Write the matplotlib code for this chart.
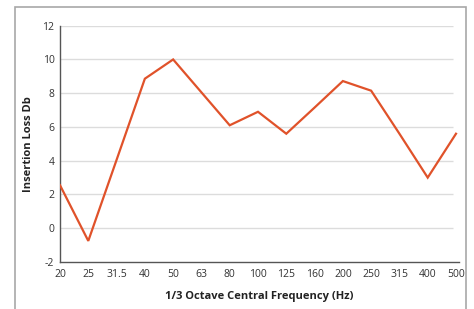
import matplotlib
matplotlib.use("Agg")
import matplotlib.pyplot as plt
from matplotlib.patches import Rectangle

freqs = ["20", "25", "31.5", "40", "50", "63", "80", "100", "125", "160", "200", "250", "315", "400", "500"]
loss = [2.55, -0.75, 4.05, 8.86, 10.0, 8.05, 6.1, 6.9, 5.6, 7.15, 8.72, 8.15, 5.6, 3.0, 5.6]
yticks = [-2, 0, 2, 4, 6, 8, 10, 12]

plt.rcParams['font.family'] = ['Open Sans', 'DejaVu Sans']
plt.rcParams['axes.unicode_minus'] = False

W, H = 474, 309
fig = plt.figure(figsize=(W / 100, H / 100), dpi=100)

# outer frame
fig.patches.append(Rectangle((15 / W, -0.05), (466 - 15) / W, 1.05 - 7 / H,
                             transform=fig.transFigure, fill=False,
                             edgecolor="#a8a8a8", linewidth=1.2))

ax = fig.add_axes([60 / W, 1 - 262 / H, (459 - 60) / W, (262 - 25.7) / H])
x = list(range(len(freqs)))
step = (456 - 60) / 14
ax.set_xlim(0, (459 - 60) / step)
ax.set_ylim(-2, 12)

for yv in yticks[1:]:
    ax.hlines(yv, 0, (453 - 60) / step, color="#dcdcdc", linewidth=1.0, zorder=1)

ax.plot(x, loss, color="#e0522a", linewidth=1.6, zorder=3, solid_joinstyle="miter")

for s in ["top", "right"]:
    ax.spines[s].set_visible(False)
for s in ["left", "bottom"]:
    ax.spines[s].set_color("#555555")
    ax.spines[s].set_linewidth(1.0)

ax.set_xticks(x)
ax.set_xticklabels(freqs)
ax.set_yticks(yticks)
ax.tick_params(axis="both", length=0, labelsize=7.5, colors="#333333")
ax.tick_params(axis="y", pad=4)
ax.tick_params(axis="x", pad=5)

ax.set_xlabel("1/3 Octave Central Frequency (Hz)", fontsize=8, fontweight="bold", color="#222222", labelpad=8)
ax.set_ylabel("Insertion Loss Db", fontsize=8, fontweight="bold", color="#222222", labelpad=6)

fig.savefig("out.png", dpi=100)
